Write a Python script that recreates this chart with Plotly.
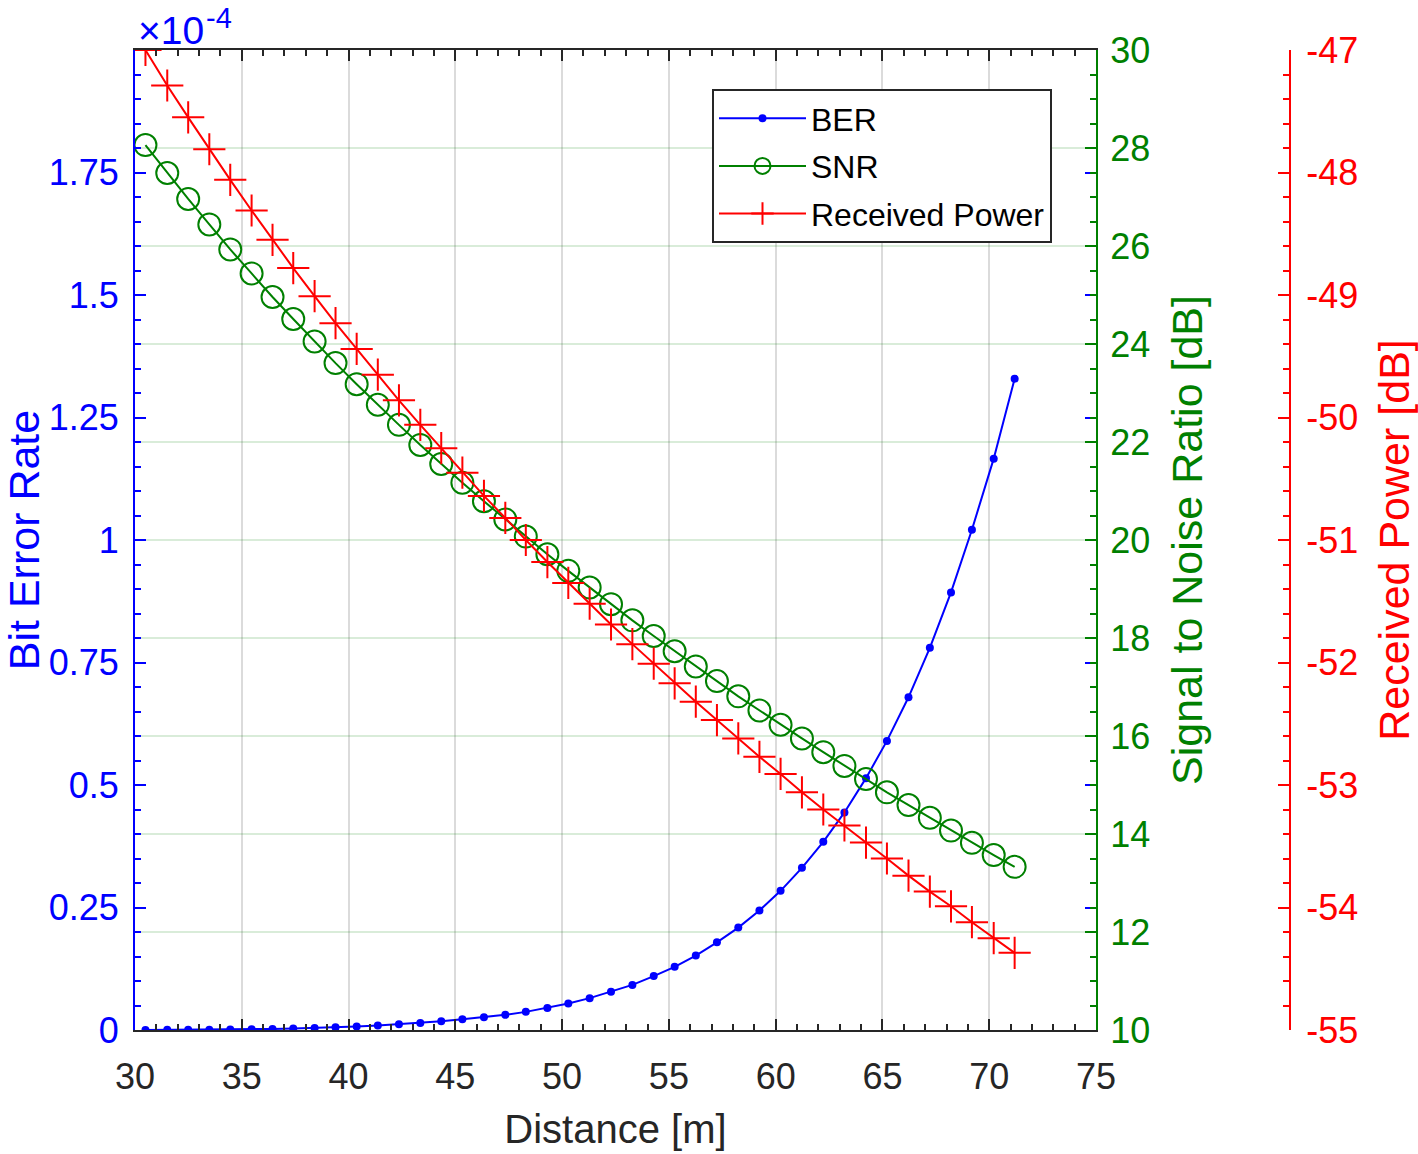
import plotly.graph_objects as go

# ---------------- data ----------------
distance_m = [30.49, 31.51, 32.49, 33.48, 34.46, 35.46, 36.44, 37.41, 38.41, 39.39,
              40.38, 41.37, 42.36, 43.36, 44.34, 45.33, 46.34, 47.34, 48.30, 49.31,
              50.29, 51.29, 52.29, 53.29, 54.29, 55.27, 56.26, 57.25, 58.25, 59.24,
              60.23, 61.23, 62.23, 63.22, 64.23, 65.21, 66.22, 67.22, 68.21, 69.19,
              70.21, 71.19]

# Bit error rate, in units of 1e-4 (axis shows "x10^-4")
ber_x1e4 = [0.0002, 0.0003, 0.0005, 0.0007, 0.0010, 0.0015, 0.0021, 0.0029, 0.0040, 0.0055,
            0.0072, 0.0093, 0.0118, 0.0145, 0.018, 0.022, 0.026, 0.031, 0.037, 0.045,
            0.054, 0.065, 0.078, 0.092, 0.110, 0.129, 0.152, 0.179, 0.209, 0.244,
            0.284, 0.331, 0.384, 0.444, 0.514, 0.590, 0.679, 0.780, 0.893, 1.021,
            1.166, 1.329]

snr_db = [28.06, 27.49, 26.96, 26.44, 25.93, 25.44, 24.96, 24.51, 24.05, 23.61,
          23.18, 22.76, 22.35, 21.94, 21.55, 21.17, 20.79, 20.42, 20.07, 19.71,
          19.37, 19.03, 18.69, 18.36, 18.04, 17.73, 17.42, 17.12, 16.81, 16.52,
          16.23, 15.95, 15.67, 15.39, 15.12, 14.85, 14.59, 14.33, 14.07, 13.82,
          13.57, 13.33]

received_power_db = [-47.00, -47.29, -47.55, -47.81, -48.06, -48.31, -48.55, -48.78, -49.01, -49.23,
                     -49.44, -49.65, -49.86, -50.06, -50.25, -50.45, -50.64, -50.82, -51.00, -51.18,
                     -51.35, -51.52, -51.69, -51.85, -52.01, -52.17, -52.32, -52.47, -52.62, -52.77,
                     -52.91, -53.06, -53.20, -53.33, -53.47, -53.60, -53.74, -53.87, -53.99, -54.12,
                     -54.25, -54.37]

x_ticks = [30, 35, 40, 45, 50, 55, 60, 65, 70, 75]
ber_ticks = [0, 0.25, 0.5, 0.75, 1, 1.25, 1.5, 1.75]
ber_tick_labels = ["0", "0.25", "0.5", "0.75", "1", "1.25", "1.5", "1.75"]
snr_ticks = [10, 12, 14, 16, 18, 20, 22, 24, 26, 28, 30]
power_ticks = [-55, -54, -53, -52, -51, -50, -49, -48, -47]
power_tick_labels = ["-55", "-54", "-53", "-52", "-51", "-50", "-49", "-48", "-47"]

# ---------------- styling ----------------
FONT = "Liberation Sans, Arial, Helvetica, sans-serif"
W, H = 1418, 1154
L, R, T, B = 135, 1096, 50, 1030
RED_AX = 1290
BLUE, GREEN, RED, DARK = "#0000ff", "#008000", "#ff0000", "#262626"
TICK_FS, XTITLE_FS, YTITLE_FS = 36, 40, 43

fig = go.Figure()
fig.add_trace(go.Scatter(
    x=distance_m, y=ber_x1e4, name="BER", mode="lines+markers", yaxis="y", legendgroup="ber",
    line=dict(color=BLUE, width=2),
    marker=dict(symbol="circle", size=8, color=BLUE)))
fig.add_trace(go.Scatter(
    x=distance_m, y=snr_db, name="SNR", mode="lines+markers", yaxis="y2", legendgroup="snr",
    line=dict(color=GREEN, width=2),
    marker=dict(symbol="circle-open", size=22, color=GREEN, line=dict(width=2, color=GREEN))))
fig.add_trace(go.Scatter(
    x=distance_m, y=received_power_db, name="Received Power", mode="lines+markers", yaxis="y3",
    legendgroup="pr",
    line=dict(color=RED, width=2),
    marker=dict(symbol="cross-thin", size=23, color=RED, line=dict(width=2, color=RED))))

ydom = [(H - B) / H, (H - T) / H]

fig.update_layout(
    width=W, height=H,
    margin=dict(l=0, r=0, t=0, b=0),
    paper_bgcolor="white", plot_bgcolor="white",
    font=dict(family=FONT, color=DARK),
    showlegend=True,
    legend=dict(x=712 / W, y=1 - 89 / H, xanchor="left", yanchor="top",
                bgcolor="white", bordercolor=DARK, borderwidth=2,
                font=dict(size=32, color="black", family=FONT),
                tracegroupgap=3, itemwidth=87),
    xaxis=dict(
        domain=[L / W, R / W], range=[30, 75], tickvals=x_ticks,
        ticks="inside", ticklen=11, tickwidth=2, tickcolor=DARK,
        showline=True, linecolor=DARK, linewidth=2, mirror="ticks",
        showgrid=True, gridcolor="rgba(0,0,0,0.14)", gridwidth=2, zeroline=False,
        minor=dict(dtick=1, ticks="inside", ticklen=6, tickwidth=2, tickcolor=DARK, showgrid=False),
        tickfont=dict(size=TICK_FS, color=DARK), ticklabelstandoff=14,
        title=dict(text="Distance [m]", font=dict(size=XTITLE_FS, color=DARK), standoff=19),
        automargin=False, anchor="y"),
    yaxis=dict(
        domain=ydom, range=[0, 2], tickvals=ber_ticks, ticktext=ber_tick_labels,
        ticks="inside", ticklen=11, tickwidth=2, tickcolor=BLUE,
        showline=True, linecolor=BLUE, linewidth=2, mirror="ticks",
        showgrid=False, zeroline=False,
        minor=dict(dtick=0.05, ticks="inside", ticklen=6, tickwidth=2, tickcolor=BLUE, showgrid=False),
        tickfont=dict(size=TICK_FS, color=BLUE), ticklabelstandoff=7,
        title=dict(text="Bit Error Rate", font=dict(size=YTITLE_FS, color=BLUE), standoff=26),
        automargin=False, anchor="x"),
    yaxis2=dict(
        overlaying="y", side="right", anchor="x", range=[10, 30], tickvals=snr_ticks,
        ticks="inside", ticklen=11, tickwidth=2, tickcolor=GREEN,
        showline=True, linecolor=GREEN, linewidth=2,
        showgrid=True, gridcolor="rgba(0,128,0,0.15)", gridwidth=2, zeroline=False,
        minor=dict(dtick=0.5, ticks="inside", ticklen=6, tickwidth=2, tickcolor=GREEN, showgrid=False),
        tickfont=dict(size=TICK_FS, color=GREEN), ticklabelstandoff=5,
        title=dict(text="Signal to Noise Ratio [dB]", font=dict(size=YTITLE_FS, color=GREEN), standoff=23),
        automargin=False),
    yaxis3=dict(
        overlaying="y", side="right", anchor="free", position=RED_AX / W,
        range=[-55, -47], tickvals=power_ticks, ticktext=power_tick_labels,
        ticks="inside", ticklen=11, tickwidth=2, tickcolor=RED,
        showline=True, linecolor=RED, linewidth=2,
        showgrid=False, zeroline=False,
        minor=dict(dtick=0.2, ticks="inside", ticklen=6, tickwidth=2, tickcolor=RED, showgrid=False),
        tickfont=dict(size=TICK_FS, color=RED), ticklabelstandoff=8,
        title=dict(text="Received Power [dB]", font=dict(size=YTITLE_FS, color=RED), standoff=23),
        automargin=False),
)

# MATLAB-style exponent label above the left axis
fig.add_annotation(
    xref="paper", yref="paper", x=136 / W, y=(H - 30) / H,
    xanchor="left", yanchor="middle", showarrow=False,
    text="×10", font=dict(size=39, color=BLUE, family=FONT))
fig.add_annotation(
    xref="paper", yref="paper", x=204 / W, y=(H - 18) / H,
    xanchor="left", yanchor="middle", showarrow=False,
    text="-4", font=dict(size=29, color=BLUE, family=FONT))

fig.write_html(
    "out.html",
    config={"displayModeBar": False},
    post_script="document.body.style.margin='0';document.body.style.overflow='hidden';")
